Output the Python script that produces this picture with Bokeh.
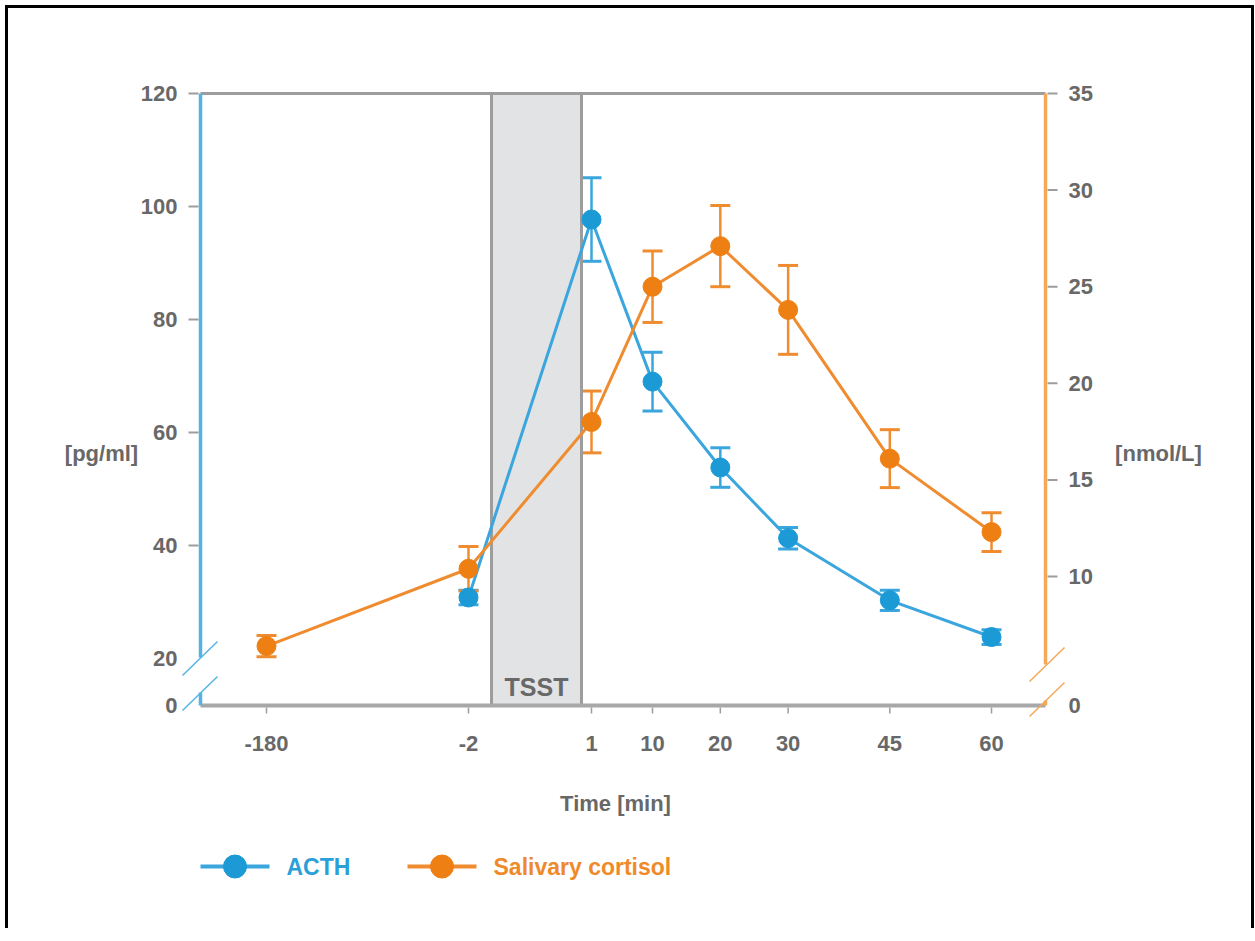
import numpy as np
from bokeh.plotting import figure
from bokeh.models import (Range1d, LinearAxis, FixedTicker, ColumnDataSource,
                          Whisker, TeeHead, Label)
from bokeh.layouts import column
from bokeh.embed import file_html
from bokeh.resources import INLINE
from bokeh.core.properties import value

# ---------------- data ----------------
times = [-180, -2, 1, 10, 20, 30, 45, 60]
acth = [np.nan, 30.8, 97.7, 69.0, 53.8, 41.3, 30.3, 23.8]
acth_err = [np.nan, 1.3, 7.4, 5.2, 3.5, 1.9, 1.8, 1.3]
cortisol = [6.4, 10.4, 18.0, 25.0, 27.1, 23.8, 16.1, 12.3]
cortisol_err = [0.55, 1.15, 1.6, 1.85, 2.1, 2.3, 1.5, 1.0]
left_ticks = [20, 40, 60, 80, 100, 120]
right_ticks = [10, 15, 20, 25, 30, 35]
series_names = ["ACTH", "Salivary cortisol"]
axis_titles = ["[pg/ml]", "[nmol/L]", "Time [min]"]
band_label = "TSST"
zero_label = "0"

# ---------------- styles / layout (page pixels) ----------------
FONT = "Liberation Sans"
BLUE, BLUE_L = "#1b9ad6", "#3aa6dd"
ORANGE, ORANGE_L = "#ee7f12", "#f08c30"
GRAY_TXT = "#686868"
GRAY_LINE = "#9d9d9d"

OFF = 8                        # canvas origin on page (5 margin + 3 border)
FL, FR, FT, FB = 180, 1066, 85, 720   # frame on page
W = 1243
H_MAIN = 840
H_LEG = 80

# broken time axis: px per minute and compressed segments
X_PPM = 6.78
X1_PX = 591                       # page px of t = 1
SEG_PX = {-2: 123, -180: 123 + 202}  # px left of t = 1
KNOT_T = [-180, -2, 1, 60]
KNOT_P = [1 - SEG_PX[-180] / X_PPM, 1 - SEG_PX[-2] / X_PPM, 1, 60]


def tpos(t):
    return float(np.interp(t, KNOT_T, KNOT_P))


X_START = 1 - (X1_PX - FL) / X_PPM
X_END = X_START + (FR - FL) / X_PPM

L_PPU, L_REF_V, L_REF_PX = 5.65, 20, 658
R_PPU, R_REF_V, R_REF_PX = 19.32, 10, 576
Y_END = L_REF_V + (L_REF_PX - FT) / L_PPU
Y_START = Y_END - (FB - FT) / L_PPU
R_END = R_REF_V + (R_REF_PX - FT) / R_PPU
R_START = R_END - (FB - FT) / R_PPU


def xpx(px):
    return X_START + (px - FL) / X_PPM


def ylpx(py):
    return Y_END - (py - FT) / L_PPU


def yrpx(py):
    return R_END - (py - FT) / R_PPU


ZERO_L = ylpx(705)
ZERO_R = yrpx(705)

p = figure(width=W, height=H_MAIN,
           x_range=Range1d(X_START, X_END), y_range=Range1d(Y_START, Y_END),
           output_backend="svg", toolbar_location=None,
           min_border_left=FL - OFF, min_border_right=W - (FR - OFF),
           min_border_top=FT - OFF, min_border_bottom=H_MAIN - (FB - OFF))
p.outline_line_color = None
p.grid.visible = False
p.extra_y_ranges = {"right": Range1d(R_START, R_END)}

raxis = LinearAxis(y_range_name="right")
p.add_layout(raxis, "right")

p.yaxis[0].ticker = FixedTicker(ticks=[ZERO_L] + left_ticks)
p.yaxis[0].major_label_overrides = {ZERO_L: zero_label}
raxis.ticker = FixedTicker(ticks=[ZERO_R] + right_ticks)
raxis.major_label_overrides = {ZERO_R: zero_label}
xt = [tpos(t) for t in times]
xax = p.xaxis[0]
xax.ticker = FixedTicker(ticks=xt)
xax.major_label_overrides = {xv: str(t) for xv, t in zip(xt, times)}

for ax in [p.yaxis[0], raxis, xax]:
    ax.axis_line_color = None
    ax.major_tick_line_color = None
    ax.minor_tick_line_color = None
    ax.major_tick_out = 0
    ax.major_tick_in = 0
    ax.minor_tick_out = 0
    ax.major_label_text_font = FONT
    ax.major_label_text_font_size = "22px"
    ax.major_label_text_font_style = "bold"
    ax.major_label_text_color = GRAY_TXT
p.yaxis[0].major_label_standoff = 3
raxis.major_label_standoff = 2
xax.major_label_standoff = 15

# axis titles placed in the side panels (not clipped by the frame)
for txt, side, px_, py_ in [(axis_titles[0], "left", 101, 453),
                            (axis_titles[1], "right", 1158, 453),
                            (axis_titles[2], "below", 615, 803)]:
    p.add_layout(Label(x=xpx(px_), y=ylpx(py_), text=txt,
                       text_font=FONT, text_font_size="22px",
                       text_font_style="bold", text_color=GRAY_TXT,
                       text_align="center", text_baseline="middle"), side)

# TSST band
p.quad(left=xpx(491), right=xpx(581), bottom=ZERO_L, top=120,
       fill_color="#e2e3e5", line_color=None)
p.segment(x0=[xpx(491), xpx(581)], y0=[ZERO_L, ZERO_L],
          x1=[xpx(491), xpx(581)], y1=[120, 120],
          line_color=GRAY_LINE, line_width=3)
p.text(x=[(xpx(491) + xpx(581)) / 2], y=[ylpx(686)], text=[band_label],
       text_font=value(FONT), text_font_size="25px", text_font_style="bold",
       text_color=GRAY_TXT, text_align="center", text_baseline="middle")

# top frame line and bottom axis line
p.segment(x0=[xpx(200)], y0=[120], x1=[xpx(1045)], y1=[120],
          line_color=GRAY_LINE, line_width=3)
p.segment(x0=[xpx(200)], y0=[ZERO_L], x1=[xpx(1045)], y1=[ZERO_L],
          line_color="#a8a8a8", line_width=4)
# bottom ticks
p.segment(x0=xt, y0=[ylpx(707)] * len(xt), x1=xt, y1=[ylpx(713)] * len(xt),
          line_color=GRAY_LINE, line_width=1.5)
# left ticks (above the break)
lt = left_ticks[1:]
p.segment(x0=[xpx(188)] * len(lt), y0=lt, x1=[xpx(198)] * len(lt), y1=lt,
          line_color=GRAY_LINE, line_width=2)
# right ticks
p.segment(x0=[xpx(1047)] * len(right_ticks), y0=right_ticks,
          x1=[xpx(1057)] * len(right_ticks), y1=right_ticks,
          line_color=GRAY_LINE, line_width=2, y_range_name="right")

# left blue axis with break
p.segment(x0=[xpx(200), xpx(200)], y0=[120, ylpx(692)],
          x1=[xpx(200), xpx(200)], y1=[ylpx(657), ZERO_L],
          line_color="#55b3e3", line_width=3.5)
p.segment(x0=[xpx(182), xpx(182)], y0=[ylpx(675), ylpx(710)],
          x1=[xpx(217), xpx(217)], y1=[ylpx(641), ylpx(676)],
          line_color="#55b3e3", line_width=1.5)
# right orange axis with break
p.segment(x0=[xpx(1045), xpx(1045)], y0=[35, yrpx(700)],
          x1=[xpx(1045), xpx(1045)], y1=[yrpx(664), ZERO_R],
          line_color="#f5a75a", line_width=3.5, y_range_name="right")
p.segment(x0=[xpx(1029), xpx(1029)], y0=[yrpx(681), yrpx(716)],
          x1=[xpx(1064), xpx(1064)], y1=[yrpx(647), yrpx(682)],
          line_color="#f5a75a", line_width=1.5, y_range_name="right")

# ACTH series
mask = [not np.isnan(v) for v in acth]
src_a = ColumnDataSource(dict(
    x=[tpos(t) for t, m in zip(times, mask) if m],
    y=[v for v, m in zip(acth, mask) if m],
    upper=[v + e for v, e, m in zip(acth, acth_err, mask) if m],
    lower=[v - e for v, e, m in zip(acth, acth_err, mask) if m]))
p.add_layout(Whisker(source=src_a, base="x", upper="upper", lower="lower",
                     dimension="height", line_color=BLUE_L, line_width=2.5,
                     upper_head=TeeHead(size=20, line_color=BLUE_L, line_width=3),
                     lower_head=TeeHead(size=20, line_color=BLUE_L, line_width=3)))
p.line("x", "y", source=src_a, line_color=BLUE_L, line_width=3)
p.scatter("x", "y", source=src_a, size=19, fill_color=BLUE, line_color=BLUE)

# Cortisol series
src_c = ColumnDataSource(dict(
    x=[tpos(t) for t in times], y=cortisol,
    upper=[v + e for v, e in zip(cortisol, cortisol_err)],
    lower=[v - e for v, e in zip(cortisol, cortisol_err)]))
p.add_layout(Whisker(source=src_c, base="x", upper="upper", lower="lower",
                     dimension="height", line_color=ORANGE_L, line_width=2.5,
                     y_range_name="right",
                     upper_head=TeeHead(size=20, line_color=ORANGE_L, line_width=3),
                     lower_head=TeeHead(size=20, line_color=ORANGE_L, line_width=3)))
p.line("x", "y", source=src_c, line_color=ORANGE_L, line_width=3,
       y_range_name="right")
p.scatter("x", "y", source=src_c, size=19, fill_color=ORANGE,
          line_color=ORANGE, y_range_name="right")

# ---------------- legend (separate strip, frame aligned with main) -------
q = figure(width=W, height=H_LEG, x_range=Range1d(FL, FR),
           y_range=Range1d(H_LEG, 0),
           output_backend="svg", toolbar_location=None,
           min_border_left=FL - OFF, min_border_right=W - (FR - OFF),
           min_border_top=0, min_border_bottom=0)
q.outline_line_color = None
q.axis.visible = False
q.grid.visible = False
LEG_Y = 866 - (OFF + H_MAIN)
leg_x0 = [200, 407]
leg_cols = [(BLUE, BLUE_L, "#2a9fd8"), (ORANGE, ORANGE_L, "#ef8a2b")]
for name, x0, (mc, lc, tc) in zip(series_names, leg_x0, leg_cols):
    q.segment(x0=[x0], y0=[LEG_Y], x1=[x0 + 69], y1=[LEG_Y], line_color=lc,
              line_width=4)
    q.scatter(x=[x0 + 34.5], y=[LEG_Y], size=23, fill_color=mc, line_color=mc)
    q.text(x=[x0 + 86], y=[LEG_Y], text=[name], text_font=value(FONT),
           text_font_size="23px", text_font_style="bold", text_color=tc,
           text_align="left", text_baseline="middle")

layout = column(p, q, margin=(5, 0, 0, 5))
layout.styles = {"border-left": "3px solid #000", "border-top": "3px solid #000",
                 "border-right": "3px solid #000"}

open("out.html", "w").write(file_html(layout, INLINE))
